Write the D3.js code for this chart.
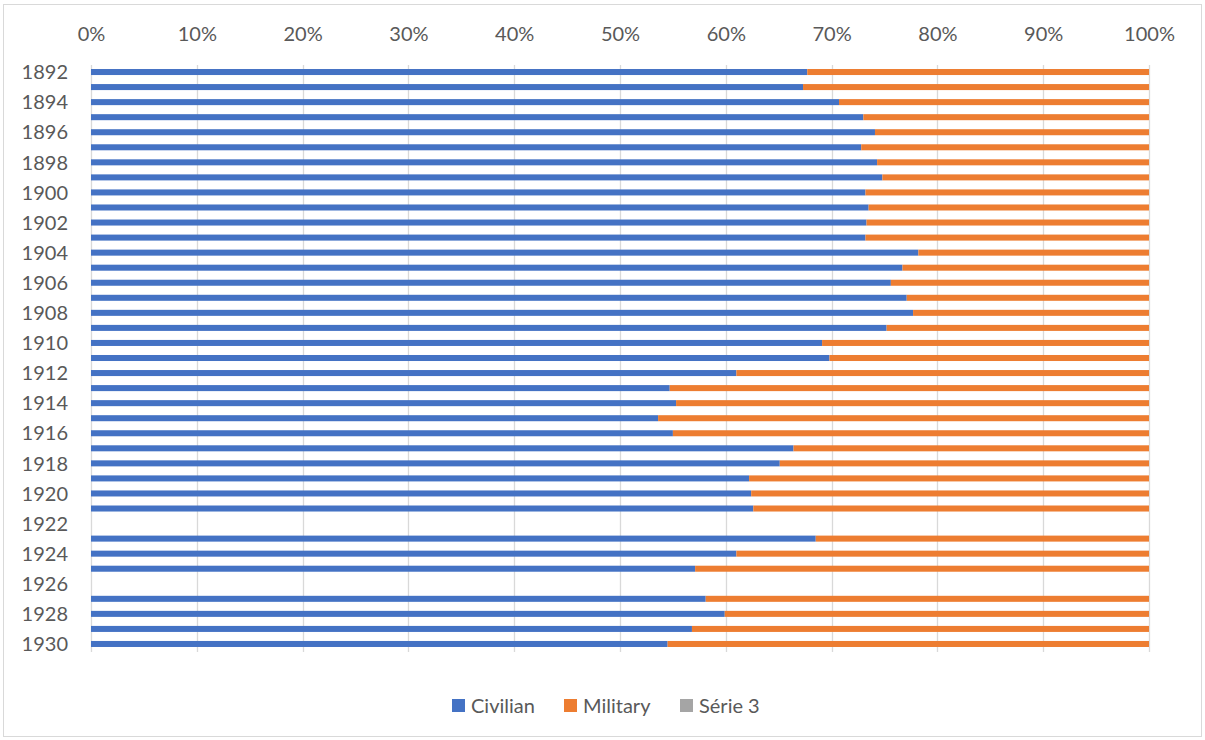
<!DOCTYPE html>
<html>
<head>
<meta charset="utf-8">
<script src="https://cdn.jsdelivr.net/npm/d3@7"></script>
<style>
  html, body { margin: 0; padding: 0; background: #fff; }
  svg { display: block; }
  text { font-family: Lato, "Open Sans", "Liberation Sans", sans-serif; fill: #595959; }
</style>
</head>
<body>
<svg id="chart" width="1205" height="740"></svg>
<script>
// Share of civilian vs military spending, by year (percent)
const years = [1892, 1893, 1894, 1895, 1896, 1897, 1898, 1899, 1900, 1901,
               1902, 1903, 1904, 1905, 1906, 1907, 1908, 1909, 1910, 1911,
               1912, 1913, 1914, 1915, 1916, 1917, 1918, 1919, 1920, 1921,
               1922, 1923, 1924, 1925, 1926, 1927, 1928, 1929, 1930];
const civilian = [67.7, 67.3, 70.7, 73.0, 74.1, 72.8, 74.3, 74.8, 73.2, 73.5,
                  73.3, 73.2, 78.2, 76.7, 75.6, 77.1, 77.7, 75.2, 69.1, 69.8,
                  61.0, 54.7, 55.3, 53.6, 55.0, 66.4, 65.1, 62.2, 62.4, 62.6,
                  null, 68.5, 61.0, 57.1, null, 58.1, 59.9, 56.8, 54.5];
const military = [32.3, 32.7, 29.3, 27.0, 25.9, 27.2, 25.7, 25.2, 26.8, 26.5,
                  26.7, 26.8, 21.8, 23.3, 24.4, 22.9, 22.3, 24.8, 30.9, 30.2,
                  39.0, 45.3, 44.7, 46.4, 45.0, 33.6, 34.9, 37.8, 37.6, 37.4,
                  null, 31.5, 39.0, 42.9, null, 41.9, 40.1, 43.2, 45.5];
const serie3 = years.map(() => 0);

const seriesNames = ["Civilian", "Military", "Série 3"];
const seriesColors = ["#4472C4", "#ED7D31", "#A5A5A5"];
const xTicks = [0, 0.1, 0.2, 0.3, 0.4, 0.5, 0.6, 0.7, 0.8, 0.9, 1];

const rows = years.map((y, i) => ({
  year: y,
  Civilian: civilian[i] || 0,
  Military: military[i] || 0,
  "Série 3": serie3[i] || 0,
  empty: civilian[i] == null
}));

const svg = d3.select("#chart");

// outer chart frame
svg.append("rect")
  .attr("x", 3.5).attr("y", 4.5)
  .attr("width", 1198).attr("height", 732)
  .attr("fill", "#fff").attr("stroke", "#d9d9d9").attr("stroke-width", 1);

const x = d3.scaleLinear().domain([0, 1]).range([91, 1149]);
const y = d3.scaleBand().domain(years).range([64.5, 651.5]).paddingInner(0.6).paddingOuter(0.3);

// vertical gridlines
svg.append("g").selectAll("line").data(xTicks).join("line")
  .attr("x1", d => Math.round(x(d)) + 0.5).attr("x2", d => Math.round(x(d)) + 0.5)
  .attr("y1", 65).attr("y2", 652)
  .attr("stroke", "#d9d9d9").attr("stroke-width", 1.3);

// top percentage axis
const xAxis = svg.append("g")
  .attr("transform", "translate(0,41)")
  .call(d3.axisTop(x).tickValues(xTicks).tickSize(0).tickPadding(0).tickFormat(d3.format(".0%")));
xAxis.select(".domain").remove();
xAxis.selectAll("text").style("font-size", "20px").attr("dy", "0");

// year axis, every second year labelled
const yAxis = svg.append("g")
  .attr("transform", "translate(68,0)")
  .call(d3.axisLeft(y).tickValues(years.filter(v => v % 2 === 0)).tickSize(0).tickPadding(0).tickFormat(d3.format("d")));
yAxis.select(".domain").remove();
yAxis.selectAll("text").style("font-size", "20px").attr("dy", "0.36em");

// 100% stacked bars
const stack = d3.stack().keys(seriesNames).offset(d3.stackOffsetExpand);
const layers = stack(rows);

svg.append("g").selectAll("g").data(layers).join("g")
  .attr("fill", (d, i) => seriesColors[i])
  .selectAll("rect")
  .data(d => d.filter(p => !p.data.empty && p[1] > p[0]))
  .join("rect")
  .attr("x", d => x(d[0]))
  .attr("width", d => x(d[1]) - x(d[0]))
  .attr("y", d => y(d.data.year))
  .attr("height", y.bandwidth());

// legend
const legendItems = [
  { name: "Civilian", color: seriesColors[0], x: 452 },
  { name: "Military", color: seriesColors[1], x: 564 },
  { name: "Série 3", color: seriesColors[2], x: 680 }
];
const legend = svg.append("g");
legendItems.forEach(it => {
  legend.append("rect")
    .attr("x", it.x).attr("y", 699)
    .attr("width", 13).attr("height", 13)
    .attr("fill", it.color);
  legend.append("text")
    .attr("x", it.x + 19).attr("y", 705.5)
    .attr("dy", "0.36em")
    .style("font-size", "20px")
    .text(it.name);
});
</script>
</body>
</html>
